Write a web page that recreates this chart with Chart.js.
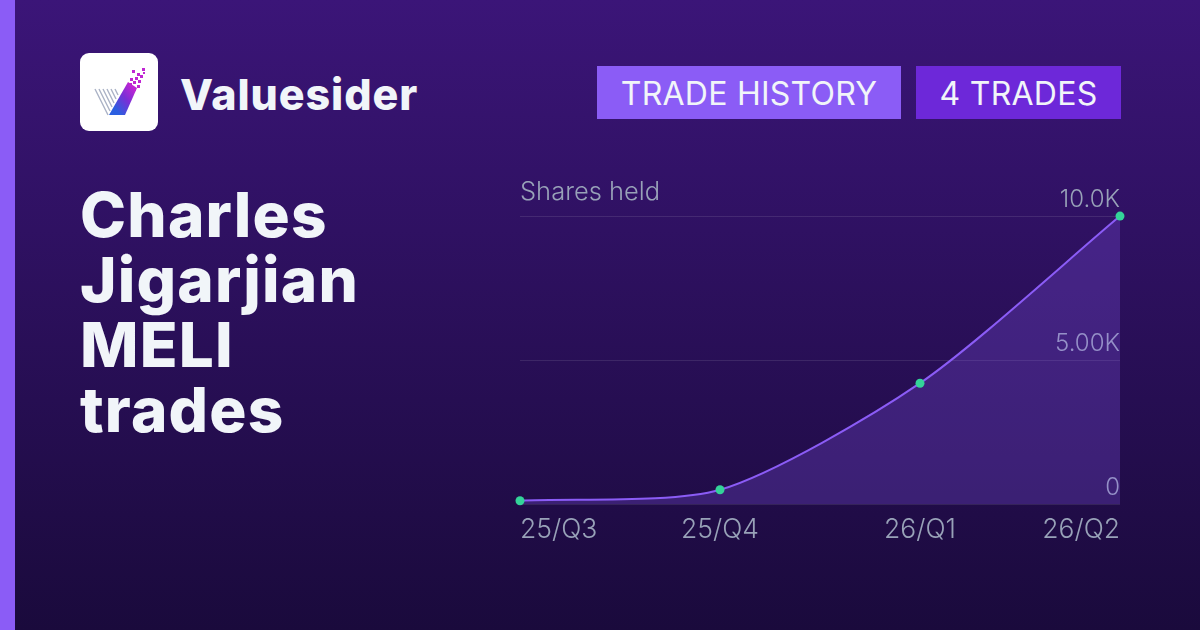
<!DOCTYPE html>
<html>
<head>
<meta charset="utf-8">
<title>Charles Jigarjian MELI trades</title>
<script src="https://cdn.jsdelivr.net/npm/chart.js@4"></script>
<style>
  html, body { margin: 0; padding: 0; }
  body {
    position: relative; width: 1200px; height: 630px; overflow: hidden;
    background: linear-gradient(180deg, #3b1578 0%, #1a0a3c 100%);
    font-family: Inter, sans-serif; color: #f1f5f9;
  }
  #bar { position: absolute; left: 0; top: 0; width: 15px; height: 630px; background: #8b5cf6; }
  #logo { position: absolute; left: 80px; top: 53px; width: 78px; height: 78px; background: #fff; border-radius: 9px; }
  #brand { position: absolute; left: 180px; top: 66px; font: 800 43px/56px Inter, sans-serif; letter-spacing: 0.9px; white-space: nowrap; }
  #title { position: absolute; left: 80px; top: 182px; font: 800 62px/65px Inter, sans-serif; letter-spacing: 1.2px; white-space: nowrap; }
  .badge { position: absolute; top: 66px; height: 53px; font: 400 32px/55px Inter, sans-serif; letter-spacing: 0.25px; text-align: center; color: #f1f5f9; white-space: nowrap; }
  #b1 { left: 597px; width: 304px; background: #8b5cf6; }
  #b2 { left: 916px; width: 205px; background: #6d28d9; }
  #wrap { position: absolute; left: 500px; top: 170px; width: 640px; height: 386px; }
</style>
</head>
<body>
<div id="bar"></div>
<div id="logo">
  <svg width="78" height="78" viewBox="0 0 78 78">
    <defs>
      <linearGradient id="vg" x1="0" y1="1" x2="1" y2="0">
        <stop offset="0.2" stop-color="#2b5fe0"/><stop offset="0.55" stop-color="#7a2fd6"/><stop offset="0.85" stop-color="#c026d3"/>
      </linearGradient>
    </defs>
    <g stroke="#aab2c5" stroke-width="1.4">
      <line x1="15" y1="36" x2="28" y2="62"/><line x1="19" y1="36" x2="30" y2="58"/>
      <line x1="23" y1="36" x2="32" y2="54"/><line x1="27" y1="36" x2="34" y2="50"/>
      <line x1="31" y1="36" x2="36" y2="46"/><line x1="35" y1="36" x2="38" y2="42"/>
    </g>
    <polygon points="29,62 48,29 57,35 45,62" fill="url(#vg)"/>
    <g fill="#c026d3">
      <rect x="52" y="17" width="3" height="3"/><rect x="57" y="20" width="3" height="3"/>
      <rect x="62" y="15" width="3" height="3"/><rect x="50" y="25" width="3" height="3"/>
      <rect x="55" y="24" width="3" height="3"/><rect x="60" y="22" width="3" height="3"/>
      <rect x="63" y="19" width="2" height="2"/><rect x="49" y="30" width="3" height="3"/>
      <rect x="53" y="28" width="3" height="3"/><rect x="58" y="27" width="3" height="3"/>
      <rect x="57" y="32" width="3" height="3"/><rect x="54" y="36" width="2" height="2"/>
    </g>
  </svg>
</div>
<div id="brand">Valuesider</div>
<div id="title">Charles<br>Jigarjian<br>MELI<br>trades</div>
<div id="b1" class="badge">TRADE HISTORY</div>
<div id="b2" class="badge">4 TRADES</div>
<div id="wrap"><canvas id="chart_1" width="640" height="386"></canvas></div>

<script>
const quarters = ['25/Q3', '25/Q4', '26/Q1', '26/Q2'];
const shares = [120, 500, 4200, 10000];
const yTicks = [0, 5000, 10000];
const yLabels = ['0', '5.00K', '10.0K'];

const ctx = document.getElementById('chart_1').getContext('2d');
const chart1 = new Chart(ctx, {
    type: 'line',
    data: {
        labels: quarters,
        datasets: [{
            label: 'Shares held',
            data: shares,
            borderColor: '#8b5cf6',
            borderWidth: 2,
            backgroundColor: 'rgba(139, 92, 246, 0.25)',
            fill: 'origin',
            tension: 0.25,
            pointRadius: 4.5,
            pointBackgroundColor: '#34d399',
            pointBorderWidth: 0,
            clip: false
        }]
    },
    options: {
        responsive: false,
        animation: false,
        layout: { padding: { left: 20, right: 20, top: 0, bottom: 0 } },
        plugins: {
            legend: { display: false },
            tooltip: { enabled: false },
            title: {
                display: true,
                text: 'Shares held',
                align: 'start',
                color: '#98a2b8',
                font: { family: 'Inter', size: 25.5, weight: '300' },
                padding: { top: 7.5, bottom: 8 }
            }
        },
        scales: {
            x: {
                offset: false,
                grid: { display: false, drawTicks: false },
                border: { display: false },
                ticks: {
                    align: 'inner',
                    maxRotation: 0,
                    padding: 10,
                    color: '#98a2b8',
                    font: { family: 'Inter', size: 26.5, weight: '300' }
                }
            },
            y: {
                position: 'right',
                min: 0,
                max: 10000,
                afterBuildTicks: (axis) => { axis.ticks = yTicks.map((v) => ({ value: v })); },
                grid: { color: 'rgba(255, 255, 255, 0.1)', drawTicks: false },
                border: { display: false },
                ticks: {
                    mirror: true,
                    padding: 0,
                    labelOffset: -16,
                    color: '#98a2b8',
                    font: { family: 'Inter', size: 24, weight: '300' },
                    callback: (v) => yLabels[yTicks.indexOf(v)]
                }
            }
        }
    }
});
</script>
</body>
</html>
